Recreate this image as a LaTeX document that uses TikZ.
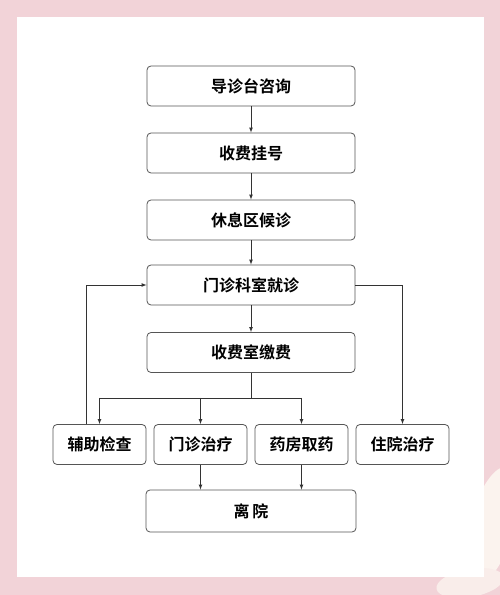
\documentclass[tikz,border=0pt]{standalone}
\usepackage{fontspec}
\usepackage{tikz}
\usetikzlibrary{positioning}
\newfontfamily\cjk{Noto Sans CJK SC}[BoldFont={Noto Sans CJK SC Bold}]
\definecolor{bgpink}{HTML}{F2D3D8}
\definecolor{boxline}{HTML}{555555}
\definecolor{petal}{HTML}{FBF3EE}

\tikzset{
    stepbox/.style={draw=boxline, line width=0.8pt, rounded corners=4pt, fill=white,
        minimum width=208pt, minimum height=40pt, font=\cjk\bfseries\fontsize{16}{18}\selectfont},
    smallbox/.style={stepbox, minimum width=93pt},
    arr/.style={draw=black!80, line width=0.7pt, -latex},
    ln/.style={draw=black!80, line width=0.7pt}
}

\begin{document}
\begin{tikzpicture}[x=1pt,y=1pt]

    \useasboundingbox (0,0) rectangle (500,595);
    \fill[bgpink] (0,0) rectangle (500,595);
    % flower in the corner
    \begin{scope}
        \clip (0,0) rectangle (500,595);
        \fill[petal] (492,70) ellipse[x radius=22pt, y radius=60pt, rotate=-15];
        \fill[petal!80!bgpink] (470,12) ellipse[x radius=34pt, y radius=14pt, rotate=10];
    \end{scope}
    \fill[white] (17,18) rectangle (484,578);

    \node[stepbox] (daozhen) at (251,509) {导诊台咨询};
    \node[stepbox] (guahao)  at (251,442) {收费挂号};
    \node[stepbox] (houzhen) at (251,375) {休息区候诊};
    \node[stepbox] (jiuzhen) at (251,310) {门诊科室就诊};
    \node[stepbox] (jiaofei) at (251,242.5) {收费室缴费};

    \node[smallbox] (fuzhu)   at (99.5,150.5)  {辅助检查};
    \node[smallbox] (menzhen) at (200.5,150.5) {门诊治疗};
    \node[smallbox] (yaofang) at (301.5,150.5) {药房取药};
    \node[smallbox] (zhuyuan) at (402.5,150.5) {住院治疗};

    \node[stepbox, minimum width=210pt, minimum height=42pt] (liyuan) at (251,84) {离\hspace{3pt}院};

    \coordinate (fork) at (251,197);

    \draw[arr] (daozhen) -- (guahao);
    \draw[arr] (guahao) -- (houzhen);
    \draw[arr] (houzhen) -- (jiuzhen);
    \draw[arr] (jiuzhen) -- (jiaofei);

    \draw[ln] (jiaofei) -- (fork);
    \draw[ln] (fuzhu.north |- fork) -- (yaofang.north |- fork);
    \foreach \n in {fuzhu,menzhen,yaofang}{%
        \draw[arr] (\n.north |- fork) -- (\n.north);
    }

    \draw[arr] ([xshift=-13.5pt]fuzhu.north) |- (jiuzhen.west);
    \draw[arr] (jiuzhen.east) -| (zhuyuan.north);

    \draw[arr] (menzhen) -- (menzhen |- liyuan.north);
    \draw[arr] (yaofang) -- (yaofang |- liyuan.north);

\end{tikzpicture}
\end{document}
